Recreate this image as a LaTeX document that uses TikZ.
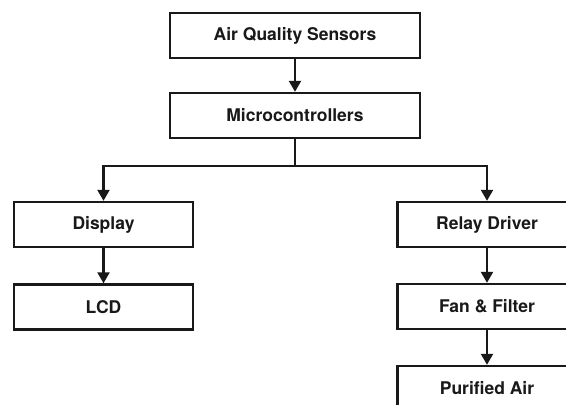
\documentclass[tikz,border=0pt]{standalone}
\usepackage{fontspec}
\setmainfont{TeX Gyre Heros}
\usetikzlibrary{arrows.meta}
\begin{document}
\begin{tikzpicture}[x=1pt,y=-1pt,
  blk/.style={draw=black!90, line width=2.4pt, fill=white, inner sep=0pt,
    font=\bfseries\fontsize{17.5}{21}\selectfont, text=black!90},
  wide/.style={blk, minimum width=250pt, minimum height=45pt},
  narrow/.style={blk, minimum width=179pt, minimum height=45pt},
  link/.style={draw=black!90, line width=2.2pt},
  arr/.style={link, -{Triangle[length=11pt,width=12pt]}}]
  \clip (0,0) rectangle (566,405);
  \fill[white] (0,0) rectangle (566,405);

  % blocks
  \node[wide]   (sensors)  at (295,35.5)   {Air Quality Sensors};
  \node[wide]   (mcu)      at (295,115.5)  {Microcontrollers};
  \node[narrow] (display)  at (103.5,224.5) {Display};
  \node[narrow] (lcd)      at (103.5,307)  {LCD};
  \node[narrow] (relay)    at (487,224.5)  {Relay Driver};
  \node[narrow] (fan)      at (487,306.5)  {Fan \& Filter};
  \node[narrow] (air)      at (487,388.5)  {Purified Air};

  % branch point below the controller
  \coordinate (split) at (295,166);

  % connectors
  \draw[arr] (sensors) -- (mcu);
  \draw[link] (mcu) -- (split);
  \draw[arr] (split) -| (display);
  \draw[arr] (split) -| (relay);
  \draw[arr] (display) -- (lcd);
  \draw[arr] (relay) -- (fan);
  \draw[arr] (fan) -- (air);
\end{tikzpicture}
\end{document}
